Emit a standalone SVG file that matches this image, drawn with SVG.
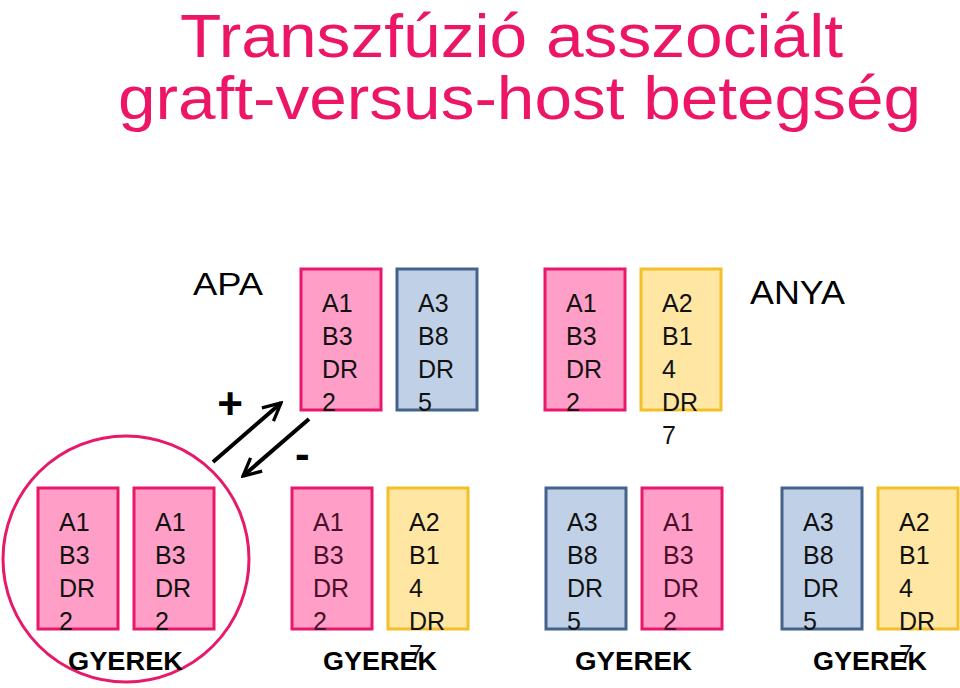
<svg xmlns="http://www.w3.org/2000/svg" width="960" height="688" viewBox="0 0 960 688">
<defs>
<style>
.title{font-family:"Liberation Sans",Arial,sans-serif;font-size:62px;fill:#EC1566}
.lbl{font-family:"Liberation Sans",Arial,sans-serif;fill:#000}
.t{font-family:"Liberation Sans",Arial,sans-serif;font-size:25px;fill:#111}
.td{font-family:"Liberation Sans",Arial,sans-serif;font-size:25px;fill:#4a0f2a}
.g{font-family:"Liberation Sans",Arial,sans-serif;font-size:25px;font-weight:bold;fill:#000}
.pink{fill:#FF9EC6;stroke:#E8186B;stroke-width:3}
.blue{fill:#C0D1E7;stroke:#44638C;stroke-width:3}
.yel{fill:#FFE6A3;stroke:#F4C02A;stroke-width:3}
.arr{stroke:#000;stroke-width:4;fill:none;marker-end:url(#open)}
</style>
<marker id="open" viewBox="0 0 10 10" refX="9" refY="5" markerWidth="5.5" markerHeight="5.5" orient="auto" markerUnits="strokeWidth">
<polyline points="1,1 9,5 1,9" fill="none" stroke="#000" stroke-width="1.5"/>
</marker>
</defs>
<rect width="960" height="688" fill="#fff"/>
<text class="title" x="180" y="57" textLength="663" lengthAdjust="spacingAndGlyphs">Transzfúzió asszociált</text>
<text class="title" x="118" y="119" textLength="803" lengthAdjust="spacingAndGlyphs">graft-versus-host betegség</text>

<text class="lbl" x="193" y="295" font-size="32" textLength="70" lengthAdjust="spacingAndGlyphs">APA</text>
<text class="lbl" x="750" y="304" font-size="33" textLength="95" lengthAdjust="spacingAndGlyphs">ANYA</text>

<circle id="circle" cx="126" cy="559" r="123" fill="none" stroke="#E8186B" stroke-width="3"/>

<g id="apa1"><rect class="pink" x="301" y="269" width="80" height="141"/>
<text class="t"><tspan x="322" y="312">A1</tspan><tspan x="322" y="345">B3</tspan><tspan x="322" y="378">DR</tspan><tspan x="322" y="411">2</tspan></text></g>
<g id="apa2"><rect class="blue" x="397" y="269" width="80" height="141"/>
<text class="t"><tspan x="418" y="312">A3</tspan><tspan x="418" y="345">B8</tspan><tspan x="418" y="378">DR</tspan><tspan x="418" y="411">5</tspan></text></g>
<g id="anya1"><rect class="pink" x="545" y="269" width="80" height="141"/>
<text class="t"><tspan x="566" y="312">A1</tspan><tspan x="566" y="345">B3</tspan><tspan x="566" y="378">DR</tspan><tspan x="566" y="411">2</tspan></text></g>
<g id="anya2"><rect class="yel" x="641" y="269" width="80" height="141"/>
<text class="t"><tspan x="662" y="312">A2</tspan><tspan x="662" y="345">B1</tspan><tspan x="662" y="378">4</tspan><tspan x="662" y="411">DR</tspan><tspan x="662" y="444">7</tspan></text></g>

<g id="gy1a"><rect class="pink" x="38" y="488" width="80" height="141"/>
<text class="t"><tspan x="59" y="531">A1</tspan><tspan x="59" y="564">B3</tspan><tspan x="59" y="597">DR</tspan><tspan x="59" y="630">2</tspan></text></g>
<g id="gy1b"><rect class="pink" x="134" y="488" width="80" height="141"/>
<text class="t"><tspan x="155" y="531">A1</tspan><tspan x="155" y="564">B3</tspan><tspan x="155" y="597">DR</tspan><tspan x="155" y="630">2</tspan></text></g>
<g id="gy2a"><rect class="pink" x="292" y="488" width="80" height="141"/>
<text class="td"><tspan x="313" y="531">A1</tspan><tspan x="313" y="564">B3</tspan><tspan x="313" y="597">DR</tspan><tspan x="313" y="630">2</tspan></text></g>
<g id="gy2b"><rect class="yel" x="388" y="488" width="80" height="141"/>
<text class="t"><tspan x="409" y="531">A2</tspan><tspan x="409" y="564">B1</tspan><tspan x="409" y="597">4</tspan><tspan x="409" y="630">DR</tspan><tspan x="409" y="663">7</tspan></text></g>
<g id="gy3a"><rect class="blue" x="546" y="488" width="80" height="141"/>
<text class="t"><tspan x="567" y="531">A3</tspan><tspan x="567" y="564">B8</tspan><tspan x="567" y="597">DR</tspan><tspan x="567" y="630">5</tspan></text></g>
<g id="gy3b"><rect class="pink" x="642" y="488" width="80" height="141"/>
<text class="td"><tspan x="663" y="531">A1</tspan><tspan x="663" y="564">B3</tspan><tspan x="663" y="597">DR</tspan><tspan x="663" y="630">2</tspan></text></g>
<g id="gy4a"><rect class="blue" x="782" y="488" width="80" height="141"/>
<text class="t"><tspan x="803" y="531">A3</tspan><tspan x="803" y="564">B8</tspan><tspan x="803" y="597">DR</tspan><tspan x="803" y="630">5</tspan></text></g>
<g id="gy4b"><rect class="yel" x="878" y="488" width="80" height="141"/>
<text class="t"><tspan x="899" y="531">A2</tspan><tspan x="899" y="564">B1</tspan><tspan x="899" y="597">4</tspan><tspan x="899" y="630">DR</tspan><tspan x="899" y="663">7</tspan></text></g>

<g id="labels">
<text class="g" x="68" y="670" textLength="115" lengthAdjust="spacingAndGlyphs">GYEREK</text>
<text class="g" x="323" y="670" textLength="114" lengthAdjust="spacingAndGlyphs">GYEREK</text>
<text class="g" x="575" y="670" textLength="117" lengthAdjust="spacingAndGlyphs">GYEREK</text>
<text class="g" x="813" y="670" textLength="114" lengthAdjust="spacingAndGlyphs">GYEREK</text>
</g>

<g id="connectors">
<line class="arr" x1="213" y1="462" x2="281" y2="403"/>
<line class="arr" x1="309" y1="419" x2="243" y2="476"/>
</g>
<text class="lbl" x="230" y="419" font-size="44" font-weight="bold" text-anchor="middle">+</text>
<text class="lbl" x="295" y="469" font-size="44" font-weight="bold">-</text>
</svg>
